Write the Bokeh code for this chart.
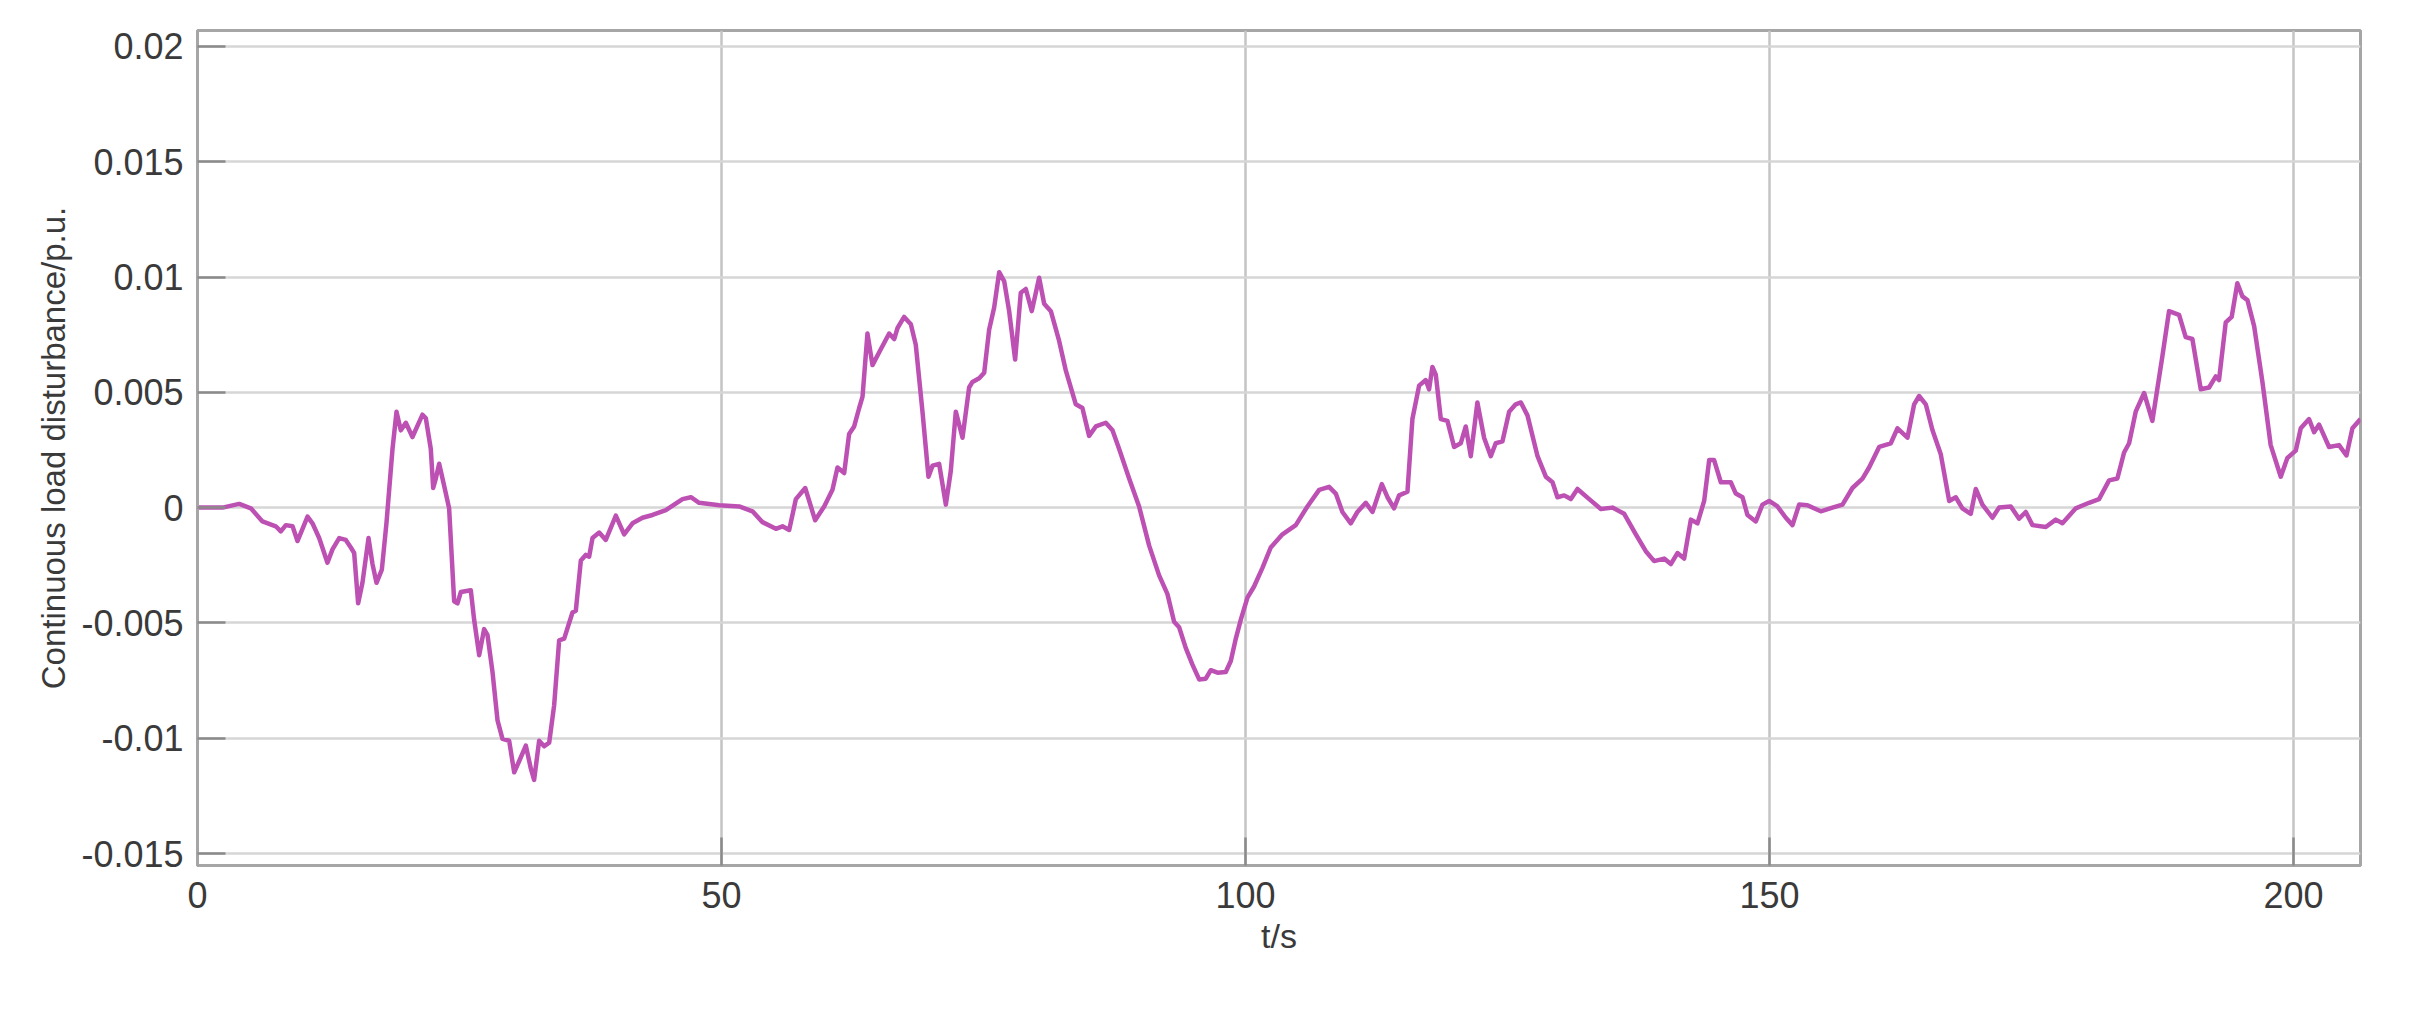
from bokeh.plotting import figure
from bokeh.models import Range1d, FixedTicker
from bokeh.embed import file_html
from bokeh.resources import INLINE

# ---- data ----
t_s = [0, 2.39, 3.98, 5.09, 6.2, 7.47, 7.95, 8.43, 9.07, 9.54, 10.5, 10.97, 11.61, 12.4, 12.88,
       13.52, 14.15, 14.63, 14.95, 15.33, 15.74, 16.32, 16.7, 17.08, 17.59, 18.03, 18.61, 18.99,
       19.4, 19.88, 20.51, 21.47, 21.79, 22.26, 22.49, 22.74, 23.06, 23.54, 24.01, 24.49, 24.81,
       25.13, 26.08, 26.4, 26.88, 27.35, 27.67, 28.15, 28.63, 29.1, 29.74, 30.22, 30.69, 31.33,
       31.81, 32.12, 32.6, 33.08, 33.56, 34.03, 34.51, 34.99, 35.78, 36.1, 36.58, 37.06, 37.37,
       37.69, 38.33, 38.96, 39.92, 40.71, 41.51,
       42.46, 43.42, 44.69, 46.28, 47.08, 47.87, 49.78, 51.69, 52.96, 53.91, 55.19, 55.82, 56.46,
       57.1, 57.99, 58.94, 59.8, 60.59, 61.07, 61.71, 62.18, 62.66, 63.14, 63.46, 63.93, 64.41,
       65.05, 66.0, 66.48, 66.8, 67.43, 68.07, 68.54, 69.18, 69.75, 70.14, 70.77, 71.41, 71.88,
       72.36, 73.0, 73.63, 73.95, 74.59, 75.07, 75.54, 76.02, 76.5, 76.98, 77.45, 78.02, 78.56,
       79.04, 79.61, 80.31, 80.79, 81.43, 82.22, 82.86,
       83.81, 84.44, 85.08, 85.72, 86.67, 87.31, 87.94, 88.9, 89.85, 90.81, 91.76, 92.55, 93.19,
       93.67, 94.3, 94.94, 95.58, 96.21, 96.69, 97.33, 98.12, 98.6, 99.08, 99.55, 100.19, 100.82,
       101.62, 102.41, 103.53, 104.8, 105.91, 107.03, 107.98, 108.62, 109.25, 110.05, 110.68,
       111.48, 112.12, 113.01, 113.55, 114.18, 114.66, 115.46, 115.93, 116.57, 117.2, 117.52,
       117.84, 118.16, 118.64, 119.27, 119.91, 120.54, 121.02, 121.5, 122.13, 122.77, 123.41,
       123.88, 124.52, 125.16, 125.79,
       126.28, 126.91, 127.87, 128.66, 129.3, 129.77, 130.41, 131.05, 131.68, 132.8, 133.91,
       135.02, 136.14, 137.25, 138.2, 139.0, 139.95, 140.59, 141.22, 141.86, 142.5, 143.13,
       143.77, 144.25, 144.72, 145.36, 146.31, 146.79, 147.43, 147.9, 148.7, 149.33, 149.97,
       150.77, 151.56, 152.2, 152.83, 153.63, 154.9, 156.01, 156.97, 157.92, 158.88, 159.51,
       160.47, 161.58, 162.22, 163.17, 163.81, 164.28, 164.92, 165.56, 166.35, 167.15, 167.78,
       168.41, 169.21, 169.69, 170.32, 171.28, 171.91, 173.03, 173.82, 174.46, 175.1, 176.37,
       177.32, 177.96, 179.23, 180.5, 181.45, 182.41, 183.2, 183.84, 184.32, 184.95, 185.75,
       186.54, 187.5, 188.13, 189.09, 189.72, 190.36, 191.16, 191.95, 192.59, 192.9, 193.54,
       194.11, 194.65, 195.13, 195.61, 196.25, 197.04, 197.83, 198.79, 199.42, 200.22, 200.7,
       201.49, 201.97, 202.45, 203.4, 204.35, 205.06, 205.63, 206.4]

load_pu = [0, 0, 0.00016, -0.00003, -0.0006, -0.00081, -0.00103, -0.00076, -0.00081, -0.00145,
           -0.00039, -0.00068, -0.00132, -0.00239, -0.00181, -0.00132, -0.0014, -0.00173, -0.00197,
           -0.00415, -0.00326, -0.00132, -0.00245, -0.00326, -0.00269, -0.00068, 0.00255, 0.00416,
           0.00335, 0.00368, 0.00306, 0.00403, 0.00387, 0.00255, 0.00085, 0.00126, 0.0019, 0.00094,
           -0.00003, -0.00406, -0.00415, -0.00366, -0.00358, -0.00487, -0.0064, -0.00527, -0.00552,
           -0.00713, -0.00923, -0.01003, -0.01011, -0.01148, -0.011, -0.01032, -0.01132, -0.01181,
           -0.01011, -0.01035, -0.01019, -0.00858, -0.00576, -0.00568, -0.00455, -0.00447, -0.00229,
           -0.00205, -0.00213, -0.00132, -0.00108, -0.0014, -0.00035, -0.00116, -0.00068,
           -0.00044, -0.00032, -0.00011, 0.00037, 0.00045, 0.00021, 0.0001, 0.00005, -0.00016,
           -0.00063, -0.00092, -0.00081, -0.00097, 0.00037, 0.00085, -0.00055, 0.00005, 0.00077,
           0.00174, 0.0015, 0.00319, 0.00352, 0.00432, 0.00481, 0.00755, 0.00618, 0.00674, 0.00755,
           0.00731, 0.00779, 0.00827, 0.00795, 0.00706, 0.00416, 0.00134, 0.00182, 0.0019, 0.00013,
           0.00158, 0.00416, 0.00303, 0.00521, 0.00545, 0.00561, 0.00585, 0.00771, 0.00868, 0.01021,
           0.00981, 0.00852, 0.00642, 0.00932, 0.00948, 0.00852, 0.00997, 0.00884, 0.00852, 0.00723,
           0.00594,
           0.00448, 0.00432, 0.00311, 0.00352, 0.00368, 0.00335, 0.00255, 0.00126, 0.00005, -0.00165,
           -0.00294, -0.00374, -0.00495, -0.00519, -0.00608, -0.00681, -0.00745, -0.00742, -0.00705,
           -0.00716, -0.00713, -0.00665, -0.00568, -0.00487, -0.0039, -0.00342, -0.00261, -0.00173,
           -0.00116, -0.00076, 0.00005, 0.00077, 0.0009, 0.00061, -0.00019, -0.00068, -0.00019,
           0.00021, -0.00019, 0.00102, 0.00045, -0.00003, 0.00053, 0.00069, 0.00384, 0.00529,
           0.00553, 0.00513, 0.0061, 0.00577, 0.00384, 0.00376, 0.00263, 0.00279, 0.00352, 0.00223,
           0.00456, 0.00303, 0.00223, 0.00279, 0.00287, 0.00416, 0.00448,
           0.00456, 0.004, 0.00223, 0.00134, 0.0011, 0.00045, 0.00053, 0.00037, 0.00081, 0.00037,
           -0.00006, 0, -0.00027, -0.00116, -0.00189, -0.00232, -0.00221, -0.00245, -0.00197,
           -0.00221, -0.00052, -0.00068, 0.00029, 0.00206, 0.00206, 0.0011, 0.0011, 0.00061,
           0.00045, -0.00032, -0.0006, 0.00013, 0.00029, 0.00005, -0.00044, -0.00076, 0.00013,
           0.0001, -0.00016, 0, 0.00013, 0.00085, 0.00126, 0.00174, 0.00263, 0.00279, 0.00344,
           0.00303, 0.00448, 0.00484, 0.00448, 0.00335, 0.00231, 0.00029, 0.00045,
           -0.00003, -0.00027, 0.00081, 0.00013, -0.00044, 0, 0.00005, -0.00048, -0.00019, -0.00076,
           -0.00084, -0.00052, -0.00068, -0.00003, 0.00021, 0.00037, 0.00118, 0.00126, 0.00239,
           0.00279, 0.00416, 0.00497, 0.00376, 0.00658, 0.00852, 0.00836, 0.00739, 0.00731, 0.00513,
           0.00521, 0.00569, 0.00553, 0.00803, 0.00827, 0.00973, 0.00916, 0.009, 0.00787, 0.00545,
           0.00271, 0.00134, 0.00215, 0.00247, 0.00344, 0.00384, 0.00327, 0.0036, 0.00263, 0.00271,
           0.00226, 0.00344, 0.00384]

x_ticks = [0, 50, 100, 150, 200]
x_tick_labels = ["0", "50", "100", "150", "200"]
y_ticks = [-0.015, -0.01, -0.005, 0, 0.005, 0.01, 0.015, 0.02]
y_tick_labels = ["-0.015", "-0.01", "-0.005", "0", "0.005", "0.01", "0.015", "0.02"]
x_label = "t/s"
y_label = "Continuous load disturbance/p.u."

FONT = "Liberation Sans"
TXT = "#3a3a3a"

p = figure(frame_width=2163, frame_height=835,
           x_range=Range1d(0, 206.4), y_range=Range1d(-0.01552, 0.02069),
           output_backend="svg", toolbar_location=None,
           min_border_left=197, min_border_right=54, min_border_top=30, min_border_bottom=139,
           background_fill_color="white", border_fill_color="white")

p.outline_line_color = "#a6a6a6"
p.outline_line_width = 3

p.xaxis.ticker = FixedTicker(ticks=x_ticks)
p.yaxis.ticker = FixedTicker(ticks=y_ticks)
p.xaxis.major_label_overrides = dict(zip(x_ticks, x_tick_labels))
p.yaxis.major_label_overrides = dict(zip(y_ticks, y_tick_labels))

for ax in (p.xaxis[0], p.yaxis[0]):
    ax.axis_line_color = "#a6a6a6"
    ax.axis_line_width = 3
    ax.major_tick_in = 28
    ax.major_tick_out = 0
    ax.major_tick_line_color = "#8a8a8a"
    ax.major_tick_line_width = 2.5
    ax.minor_tick_line_color = None
    ax.major_label_text_font = FONT
    ax.major_label_text_font_size = "36px"
    ax.major_label_text_color = TXT
    ax.axis_label_text_font = FONT
    ax.axis_label_text_font_style = "normal"
    ax.axis_label_text_color = TXT

p.yaxis.major_label_standoff = 14
p.xaxis.major_label_standoff = 16

p.xaxis.axis_label = x_label
p.xaxis.axis_label_text_font_size = "34px"
p.xaxis.axis_label_standoff = 6
p.yaxis.axis_label = y_label
p.yaxis.axis_label_text_font_size = "33px"
p.yaxis.axis_label_standoff = 6

p.xgrid.ticker = FixedTicker(ticks=x_ticks)
p.ygrid.ticker = FixedTicker(ticks=y_ticks)
p.xgrid.grid_line_color = "#c4c4c4"
p.xgrid.grid_line_width = 2.5
p.ygrid.grid_line_color = "#d6d6d6"
p.ygrid.grid_line_width = 2.5

p.line(t_s, load_pu, line_color="#BD50B3", line_width=4.5, line_join="round")

open("out.html", "w").write(file_html(p, INLINE))
